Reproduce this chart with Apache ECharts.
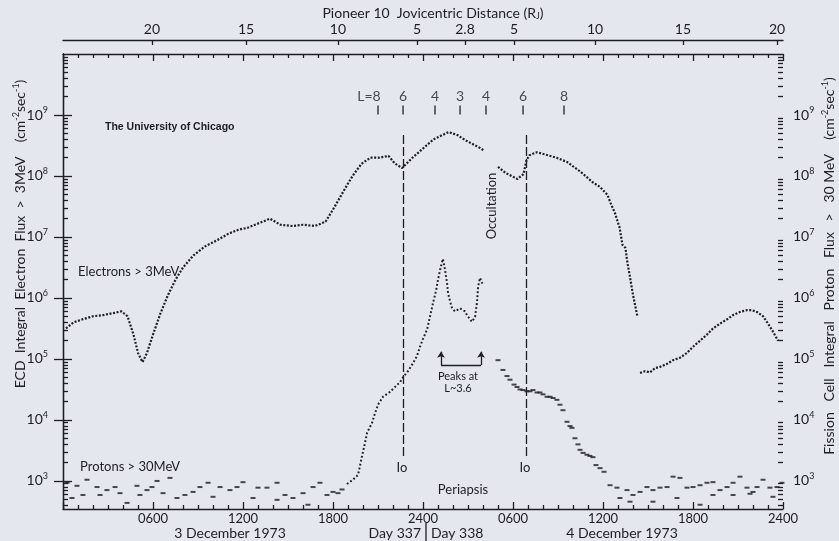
<!DOCTYPE html>
<html>
<head>
<meta charset="utf-8">
<script src="https://cdn.jsdelivr.net/npm/echarts@6/dist/echarts.min.js"></script>
<style>
  html, body { margin: 0; padding: 0; background: #e4e8ee; }
  #main { width: 839px; height: 541px; }
</style>
</head>
<body>
<div id="main"></div>
<script>
// x: hours after 0000 UT, 3 Dec 1973 ; y: log10 of flux (cm^-2 sec^-1)
const electronHours = [0.2, 0.7, 1.3, 2.0, 2.7, 3.3, 3.9, 4.3, 4.7, 5.0, 5.3, 5.6, 6.0, 6.5, 7.0, 7.5, 8.0, 8.7, 9.5, 10.3,
  11.0, 11.7, 12.3, 13.0, 13.8, 14.5, 15.3, 16.0, 16.8, 17.5, 18.0, 18.7, 19.3, 19.9, 20.5, 21.1, 21.7, 22.1, 22.6, 23.3,
  24.0, 24.7, 25.7, 26.3, 26.8, 27.8, 28.1, 28.5,
  29.0, 29.5, 30.3, 30.7, 30.9, 31.1, 31.6, 32.9, 33.6, 34.5, 35.3, 35.8, 36.3, 36.5, 36.8, 36.9, 37.1, 37.3, 37.5, 37.6,
  37.8, 38.0, 38.3, 38.4, 38.47, 38.8, 39.13, 39.47, 39.8, 40.27, 40.67, 41.13, 41.6, 42.0, 42.47, 42.93, 43.33, 43.8, 44.27,
  44.67, 45.13, 45.6, 45.93, 46.27, 46.67, 47.0, 47.33, 47.67];
const electronLog = [5.5, 5.6, 5.65, 5.7, 5.72, 5.75, 5.78, 5.7, 5.4, 5.1, 4.95, 5.1, 5.4, 5.75, 6.05, 6.3, 6.5, 6.7, 6.85, 6.95,
  7.05, 7.12, 7.15, 7.22, 7.3, 7.2, 7.18, 7.2, 7.18, 7.25, 7.45, 7.75, 8.0, 8.2, 8.3, 8.3, 8.33, 8.21, 8.13, 8.3,
  8.45, 8.6, 8.72, 8.67, 8.59, 8.46, 8.41, null,
  8.15, 8.05, 7.95, 8.03, 8.26, 8.34, 8.39, 8.3, 8.23, 8.07, 7.9, 7.82, 7.69, 7.56, 7.39, 7.31, 7.16, 6.87, 6.82, 6.62,
  6.34, 6.05, 5.69, null, 4.77, 4.8, 4.78, 4.85, 4.87, 4.92, 4.98, 5.02, 5.1, 5.2, 5.3, 5.4, 5.5, 5.58, 5.65,
  5.72, 5.77, 5.8, 5.8, 5.77, 5.7, 5.58, 5.45, 5.3];

// protons, rise to periapsis (dense dotted trace)
const protonRiseHours = [18.93, 19.33, 19.67, 19.93, 20.13, 20.27, 20.6, 20.8, 21.0, 21.33, 21.8, 22.13, 22.47, 22.67, 23.0,
  23.33, 23.6, 23.8, 24.0, 24.27, 24.47, 24.67, 24.87, 25.0, 25.13, 25.27, 25.33, 25.47, 25.6, 25.67, 25.8, 25.93, 26.13,
  26.27, 26.47, 26.6, 26.8, 26.93, 27.13, 27.27, 27.47, 27.6, 27.67, 27.8, 27.93, 28.0];
const protonRiseLog = [2.95, 3.02, 3.1, 3.4, 3.62, 3.79, 3.95, 4.11, 4.25, 4.38, 4.46, 4.54, 4.62, 4.7, 4.8,
  4.93, 5.05, 5.2, 5.33, 5.48, 5.7, 5.92, 6.12, 6.3, 6.45, 6.59, 6.64, 6.46, 6.25, 6.08, 5.95, 5.84, 5.78,
  5.8, 5.83, 5.85, 5.78, 5.72, 5.65, 5.61, 5.69, 5.93, 6.18, 6.33, 6.3, 6.21];

// protons, background and post-occultation decline (short dashes)
const protonHours = [0.27, 0.6, 0.93, 1.33, 1.6, 2.27, 2.47, 2.93, 3.47, 3.8, 4.27, 4.93, 5.13, 5.6, 5.93, 6.27, 6.67, 7.13,
  7.6, 8.13, 8.67, 9.13, 9.67, 10.0, 10.47, 11.13, 11.6, 12.0, 12.67, 13.0, 13.6, 14.27, 14.27, 14.8, 15.33, 16.0, 16.33,
  16.67, 17.13, 17.6, 18.0, 18.33, 18.6,
  29.0, 29.33, 29.6, 29.8, 30.07, 30.27, 30.47, 30.67, 30.93, 31.13, 31.33, 31.6, 31.8, 32.0, 32.27, 32.47, 32.67, 32.93,
  33.13, 33.33, 33.6, 33.8, 33.93, 34.13, 34.33, 34.47, 34.67, 34.93, 35.13, 35.33, 35.53, 35.8, 36.07,
  36.47, 36.93, 37.13, 37.6, 37.8, 38.0, 38.47, 38.93, 39.33, 39.33, 39.8, 40.27, 40.67, 40.93, 41.13, 41.6, 42.0, 42.47,
  42.47, 42.93, 43.33, 43.33, 43.8, 44.27, 44.67, 44.67, 45.13, 45.6, 45.8, 46.0, 46.27, 46.67, 47.13, 47.33, 47.6, 47.93];
const protonLog = [2.97, 2.72, 2.92, 2.77, 3.02, 2.9, 2.77, 2.85, 2.9, 2.8, 2.64, 2.92, 2.77, 2.85, 2.9, 3.0, 2.8, 3.05,
  2.72, 2.77, 2.82, 2.9, 2.97, 2.74, 2.9, 2.85, 2.9, 2.98, 2.72, 2.89, 2.89, 2.97, 2.69, 2.77, 2.72, 2.8, 2.61,
  2.9, 2.97, 2.77, 2.82, 2.8, 2.86,
  4.98, 4.82, 4.72, 4.66, 4.58, 4.54, 4.5, 4.49, 4.47, 4.47, 4.49, 4.45, 4.45, 4.42, 4.38, 4.38, 4.36, 4.33,
  4.25, 4.16, 3.97, 3.9, 3.87, 3.7, 3.6, 3.51, 3.46, 3.43, 3.41, 3.39, 3.26, 3.21, 3.15,
  2.93, 2.89, 2.72, 2.85, 2.66, 2.77, 2.82, 2.9, 2.85, 2.66, 2.89, 2.9, 3.07, 2.72, 3.05, 2.89, 2.9, 2.93,
  2.61, 2.97, 2.98, 2.77, 2.85, 2.9, 2.97, 2.77, 3.07, 2.89, 2.79, 2.82, 2.9, 3.02, 2.89, 2.74, 2.9, 2.97];

// top axis: Jovicentric distance (R_J) against time
const distanceHours = [5.93, 12.2, 18.33, 23.6, 26.8, 30.07, 35.47, 41.33, 47.6];
const distanceLabels = ['20', '15', '10', '5', '2.8', '5', '10', '15', '20'];

// L-shell markers
const lShellHours = [21.0, 22.67, 24.8, 26.47, 28.2, 30.67, 33.4];
const lShellLabels = ['L=8', '6', '4', '3', '4', '6', '8'];

const ioHours = [22.67, 30.87];
const periapsisHour = 26.8;
const decades = [3, 4, 5, 6, 7, 8, 9];

const INK = '#1d1d22';
const FONT = 'Lato';
const Y_MIN = 2.54, Y_MAX = 10;

const minorTicks = [];
for (let d = 2; d < 10; d++) {
  for (let k = 2; k <= 9; k++) {
    const v = d + Math.log10(k);
    if (v > Y_MIN && v < Y_MAX) minorTicks.push(v);
  }
}

const zip = (xs, ys) => xs.map((x, i) => [x, ys[i]]);
const hourLabel = h => {
  const t = h % 24 === 0 ? 24 : h % 24;
  return (t < 10 ? '0' : '') + t + '00';
};
const rich = {
  b: { fontSize: 14, fontFamily: FONT, color: INK, lineHeight: 18 },
  s: { fontSize: 9, fontFamily: FONT, color: INK, lineHeight: 10, verticalAlign: 'top' }
};
const pow10 = v => '{b|10}{s|' + v + '}';

const lineStyle = { color: INK, width: 1.3 };
const yBase = { type: 'value', min: Y_MIN, max: Y_MAX, splitLine: { show: false } };
const xBase = { type: 'value', min: 0, max: 48, interval: 6, splitLine: { show: false } };
const titleRich = {
  t: { fontSize: 14, fontFamily: FONT, fill: INK, lineHeight: 16 },
  s: { fontSize: 9, fontFamily: FONT, fill: INK, lineHeight: 9, verticalAlign: 'top' }
};

const chart = echarts.init(document.getElementById('main'));

const option = {
  backgroundColor: '#e4e8ee',
  animation: false,
  grid: { left: 63, right: 56, top: 54, bottom: 32 },
  xAxis: [
    {
      ...xBase, position: 'bottom',
      axisLine: { lineStyle },
      axisTick: { inside: true, length: 7, lineStyle },
      minorTick: { show: true, splitNumber: 6, length: 4, lineStyle },
      axisLabel: {
        color: INK, fontFamily: FONT, fontSize: 13, margin: 3, showMinLabel: false,
        formatter: v => hourLabel(v)
      }
    },
    {
      ...xBase, position: 'top',
      axisLine: { lineStyle },
      axisTick: { inside: true, length: 7, lineStyle },
      minorTick: { show: true, splitNumber: 6, length: 4, lineStyle },
      axisLabel: { show: false }
    },
    {
      ...xBase, position: 'top', offset: 14,
      axisLine: { lineStyle },
      axisTick: { inside: true, length: 5, customValues: distanceHours, lineStyle },
      axisLabel: {
        customValues: distanceHours, color: INK, fontFamily: FONT, fontSize: 14, margin: 4,
        formatter: v => distanceLabels[distanceHours.indexOf(v)]
      }
    }
  ],
  yAxis: [
    {
      ...yBase, position: 'left',
      axisLine: { show: true, lineStyle },
      axisTick: { inside: true, length: 9, customValues: decades, lineStyle },
      axisLabel: { customValues: decades, formatter: pow10, rich, margin: 15 }
    },
    {
      ...yBase, position: 'left',
      axisLine: { show: false },
      axisTick: { inside: true, length: 5, customValues: minorTicks, lineStyle },
      axisLabel: { show: false }
    },
    {
      ...yBase, position: 'right',
      axisLine: { show: true, lineStyle },
      axisTick: { inside: true, length: 9, customValues: decades, lineStyle },
      axisLabel: { customValues: decades, formatter: pow10, rich, margin: 10 }
    },
    {
      ...yBase, position: 'right',
      axisLine: { show: false },
      axisTick: { inside: true, length: 5, customValues: minorTicks, lineStyle },
      axisLabel: { show: false }
    }
  ],
  series: [
    {
      name: 'Electrons > 3MeV', type: 'line', showSymbol: false, connectNulls: false,
      data: zip(electronHours, electronLog),
      lineStyle: { color: INK, width: 2.2, type: [2, 1.6] }
    },
    {
      name: 'Protons rise', type: 'line', showSymbol: false,
      data: zip(protonRiseHours, protonRiseLog),
      lineStyle: { color: INK, width: 2, type: [1.8, 2.2] }
    },
    {
      name: 'Protons > 30MeV', type: 'scatter', symbol: 'rect', symbolSize: [5, 2],
      itemStyle: { color: INK },
      data: zip(protonHours, protonLog)
    },
    {
      name: 'L shells', type: 'scatter', symbol: 'rect', symbolSize: [1.6, 9], clip: false,
      itemStyle: { color: INK },
      data: lShellHours.map((h, i) => ({
        value: [h, 9.08], name: lShellLabels[i],
        label: i === 0 ? { offset: [-9, 0] } : undefined
      })),
      label: {
        show: true, position: 'top', distance: 2, color: INK, fontFamily: FONT, fontSize: 14,
        formatter: p => p.name
      },
      markLine: {
        silent: true, symbol: 'none', animation: false,
        label: { show: false },
        data: [
          [{ coord: [ioHours[0], 8.67], lineStyle: { type: [9, 3], color: INK, width: 1.3 } }, { coord: [ioHours[0], 3.38] }],
          [{ coord: [ioHours[1], 8.67], lineStyle: { type: [9, 3], color: INK, width: 1.3 } }, { coord: [ioHours[1], 3.38] }],
          [{ coord: [periapsisHour, 10.23], lineStyle: { type: 'solid', color: INK, width: 1.3 } }, { coord: [periapsisHour, 2.98] }],
          [{ coord: [25.2, 4.9], lineStyle: { type: 'solid', color: INK, width: 1.3 } }, { coord: [27.87, 4.9] }],
          [{ coord: [25.2, 4.9], symbol: 'none', lineStyle: { type: 'solid', color: INK, width: 1.3 } },
           { coord: [25.2, 5.12], symbol: 'arrow', symbolSize: 6 }],
          [{ coord: [27.87, 4.9], symbol: 'none', lineStyle: { type: 'solid', color: INK, width: 1.3 } },
           { coord: [27.87, 5.12], symbol: 'arrow', symbolSize: 6 }]
        ]
      }
    }
  ],
  graphic: [
    {
      type: 'text', x: 433, y: 13,
      style: {
        text: '{t|Pioneer 10  Jovicentric Distance (R}{j|J}{t|)}',
        align: 'center', verticalAlign: 'middle',
        rich: {
          t: { fontSize: 14, fontFamily: FONT, fill: INK, lineHeight: 16 },
          j: { fontSize: 9, fontFamily: FONT, fill: INK, lineHeight: 8, verticalAlign: 'bottom' }
        }
      }
    },
    { type: 'text', x: 105, y: 127, style: { text: 'The University of Chicago', font: 'bold 10.5px Arial', fill: INK, verticalAlign: 'middle' } },
    { type: 'text', x: 78, y: 272, style: { text: 'Electrons > 3MeV', font: '13px ' + FONT, fill: INK, verticalAlign: 'middle' } },
    { type: 'text', x: 80, y: 467, style: { text: 'Protons > 30MeV', font: '13px ' + FONT, fill: INK, verticalAlign: 'middle' } },
    { type: 'text', x: 492, y: 206, rotation: Math.PI / 2, style: { text: 'Occultation', font: '13px ' + FONT, fill: INK, align: 'center', verticalAlign: 'middle' } },
    { type: 'text', x: 402, y: 468, style: { text: 'Io', font: '13px ' + FONT, fill: INK, align: 'center', verticalAlign: 'middle' } },
    { type: 'text', x: 525, y: 468, style: { text: 'Io', font: '13px ' + FONT, fill: INK, align: 'center', verticalAlign: 'middle' } },
    { type: 'text', x: 463, y: 490, style: { text: 'Periapsis', font: '13px ' + FONT, fill: INK, align: 'center', verticalAlign: 'middle' } },
    { type: 'text', x: 458, y: 376, style: { text: 'Peaks at', font: '11px ' + FONT, fill: INK, align: 'center', verticalAlign: 'middle' } },
    { type: 'text', x: 458, y: 388, style: { text: 'L~3.6', font: '11px ' + FONT, fill: INK, align: 'center', verticalAlign: 'middle' } },
    { type: 'text', x: 230, y: 533, style: { text: '3 December 1973', font: '14px ' + FONT, fill: INK, align: 'center', verticalAlign: 'middle' } },
    { type: 'text', x: 622, y: 533, style: { text: '4 December 1973', font: '14px ' + FONT, fill: INK, align: 'center', verticalAlign: 'middle' } },
    { type: 'text', x: 421, y: 533, style: { text: 'Day 337', font: '14px ' + FONT, fill: INK, align: 'right', verticalAlign: 'middle' } },
    { type: 'text', x: 431, y: 533, style: { text: 'Day 338', font: '14px ' + FONT, fill: INK, align: 'left', verticalAlign: 'middle' } },
    { type: 'line', shape: { x1: 426, y1: 523, x2: 426, y2: 541 }, style: { stroke: INK, lineWidth: 1.3 } },
    {
      type: 'text', x: 20, y: 234, rotation: Math.PI / 2,
      style: {
        text: '{t|ECD  Integral  Electron  Flux  >  3MeV    (cm}{s|-2}{t|sec}{s|-1}{t|)}',
        align: 'center', verticalAlign: 'middle', rich: titleRich
      }
    },
    {
      type: 'text', x: 829, y: 266, rotation: Math.PI / 2,
      style: {
        text: '{t|Fission   Cell   Integral   Proton   Flux   >   30 MeV    (cm}{s|-2}{t|sec}{s|-1}{t|)}',
        align: 'center', verticalAlign: 'middle', rich: titleRich
      }
    }
  ]
};

chart.setOption(option);
</script>
</body>
</html>
